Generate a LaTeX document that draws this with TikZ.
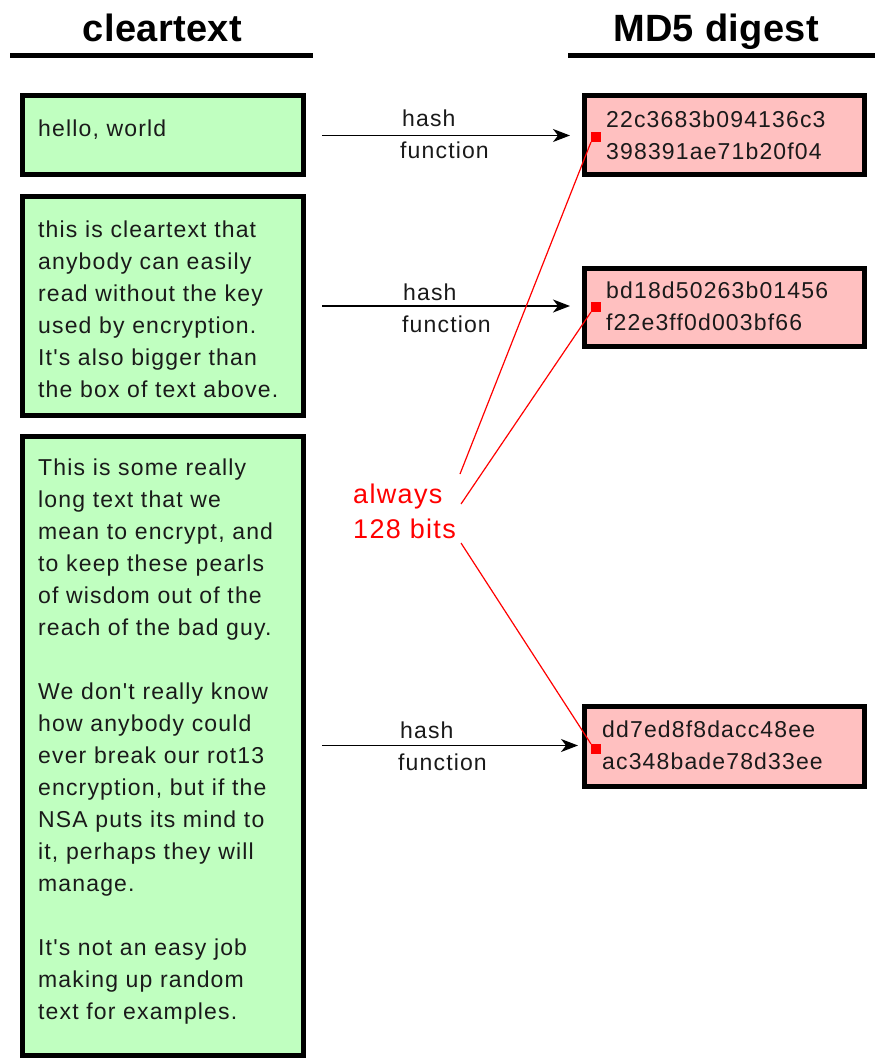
\documentclass[tikz,border=0pt]{standalone}
\usepackage{fontspec}
\setmainfont{Liberation Sans}
\newfontfamily\boxfont[LetterSpace=5]{Liberation Sans}
\newfontfamily\headfont[LetterSpace=1]{Liberation Sans}
\usetikzlibrary{arrows.meta}
\definecolor{boxgreen}{RGB}{192,255,192}
\definecolor{boxpink}{RGB}{255,192,192}
\definecolor{inktext}{RGB}{26,26,26}
\tikzset{
  box/.style={draw=black, line width=5pt, inner sep=0pt, outer sep=0pt, anchor=north west, minimum width=280.5pt},
  greenbox/.style={box, fill=boxgreen},
  pinkbox/.style={box, fill=boxpink},
  boxtext/.style={anchor=north west, inner sep=0pt, text width=262pt, align=left, text=inktext,
    font=\boxfont\fontsize{23}{32}\selectfont},
  hashlabel/.style={anchor=north west, inner sep=0pt, align=left, text=inktext,
    font=\boxfont\fontsize{23}{32}\selectfont},
  header/.style={anchor=base, inner sep=0pt, font=\headfont\bfseries\fontsize{38}{44}\selectfont},
  rule/.style={line width=5pt},
  arr/.style={line width=1.5pt, -{Stealth[length=17pt,width=13pt,inset=5pt]}},
  redsq/.style={fill=red, draw=none, minimum size=10pt, inner sep=0pt, outer sep=0pt},
  redline/.style={red, line width=1.2pt},
  redlabel/.style={anchor=north west, inner sep=0pt, align=left, text=red,
    font=\boxfont\fontsize{27}{35}\selectfont}
}
\begin{document}
\begin{tikzpicture}[x=1pt,y=-1pt]
\useasboundingbox[fill=white] (0,0) rectangle (875,1059);

% headers
\node[header] (hclear) at (162.5,42) {cleartext};
\node[header] (hmd5) at (716,42) {MD5 digest};
\draw[rule] (10,55.5) -- (313,55.5);
\draw[rule] (568,55.5) -- (875,55.5);

% cleartext boxes
\node[greenbox, minimum height=79pt] (g1) at (22.5,96) {};
\node[greenbox, minimum height=218pt] (g2) at (22.5,197) {};
\node[greenbox, minimum height=619pt] (g3) at (22.5,436) {};

\node[boxtext] (t1) at (38,113.6) {\strut hello, world};
\node[boxtext] (t2) at (38,214.6) {\strut this is cleartext that\\
anybody can easily\\
read without the key\\
used by encryption.\\
It's also bigger than\\
the box of text above.};
\node[boxtext] (t3) at (38,452.6) {\strut This is some really\\
long text that we\\
mean to encrypt, and\\
to keep these pearls\\
of wisdom out of the\\
reach of the bad guy.\\[32pt]
We don't really know\\
how anybody could\\
ever break our rot13\\
encryption, but if the\\
NSA puts its mind to\\
it, perhaps they will\\
manage.\\[32pt]
It's not an easy job\\
making up random\\
text for examples.};

% digest boxes
\node[pinkbox, minimum height=78.5pt] (p1) at (584,96) {};
\node[pinkbox, minimum height=78pt] (p2) at (584,268.5) {};
\node[pinkbox, minimum height=79.5pt] (p3) at (584,706.5) {};

\node[boxtext] (d1) at (606,104.6) {\strut 22c3683b094136c3\\398391ae71b20f04};
\node[boxtext] (d2) at (606,275.6) {\strut bd18d50263b01456\\f22e3ff0d003bf66};
\node[boxtext] (d3) at (602,714.6) {\strut dd7ed8f8dacc48ee\\ac348bade78d33ee};

% arrows
\draw[arr] ([xshift=19pt]g1.east) -- ([xshift=-14pt]p1.west |- g1.east);
\draw[arr] ([xshift=19pt]g2.east) -- ([xshift=-14pt]p2.west |- g2.east);
\draw[arr] ([xshift=19pt]g3.east) -- ([xshift=-6pt]p3.west |- g3.east);

\node[hashlabel] (l1) at (400,103.6) {\strut\hspace{2pt}hash\\function};
\node[hashlabel] (l2) at (402,277.6) {\strut\hspace{1pt}hash\\function};
\node[hashlabel] (l3) at (398,715.6) {\strut\hspace{2pt}hash\\function};

% red annotation
\node[redlabel] (bits) at (353,478.5) {\strut always\\128 bits};
\node[redsq] (s1) at (596,137) {};
\node[redsq] (s2) at (596,307) {};
\node[redsq] (s3) at (596,749) {};
\coordinate (e1) at (460,474);
\coordinate (e2) at (461,504);
\coordinate (e3) at (461,543);
\draw[redline] (e1) -- (s1.south west);
\draw[redline] (e2) -- (s2.south west);
\draw[redline] (e3) -- (s3.north west);
\end{tikzpicture}
\end{document}
